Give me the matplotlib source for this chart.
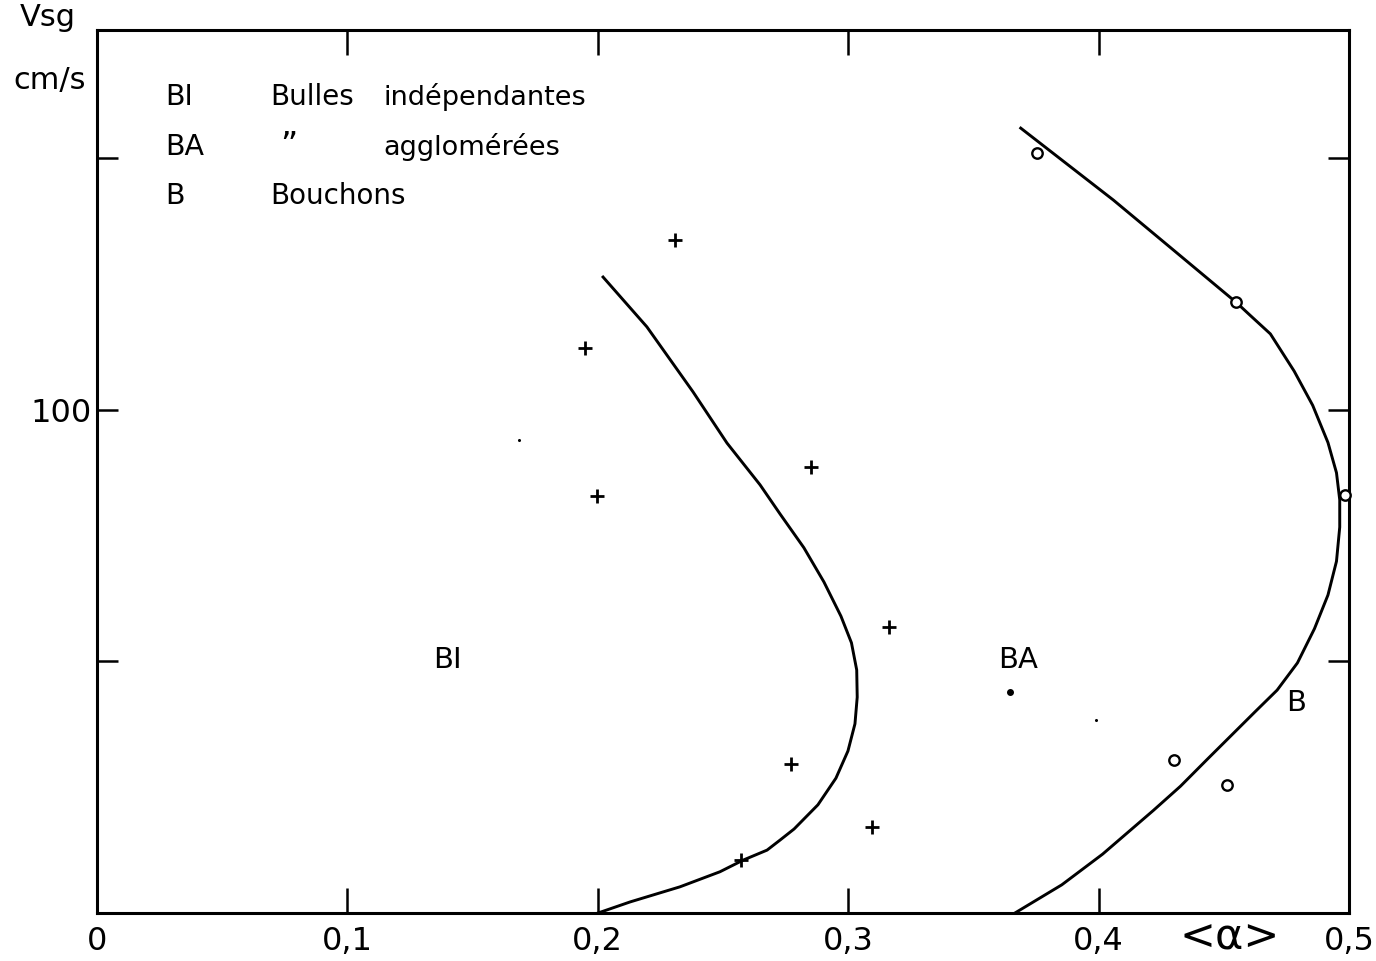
import matplotlib
matplotlib.use("Agg")
import matplotlib.pyplot as plt

# ---- data ----
plus_x = [0.2308, 0.1949, 0.1997, 0.2851, 0.3163, 0.2772, 0.3095, 0.2572]
plus_y = [133.8, 112.3, 82.9, 88.7, 56.9, 29.6, 17.1, 10.5]

circ_x = [0.3754, 0.4549, 0.4984, 0.4300, 0.4514]
circ_y = [151.1, 121.5, 83.1, 30.4, 25.5]

dot_x = [0.3647]
dot_y = [44.0]

speck_x = [0.1685, 0.3990]
speck_y = [94.0, 38.3]

curve1_x = [0.2021, 0.2196, 0.2380, 0.2516, 0.2648, 0.2728, 0.2823, 0.2903, 0.2971,
            0.3013, 0.3034, 0.3036, 0.3027, 0.2999, 0.2951, 0.2879, 0.2784, 0.2728,
            0.2676, 0.2580, 0.2488, 0.2328, 0.2129, 0.2001]
curve1_y = [126.4, 116.5, 103.6, 93.4, 85.1, 79.3, 72.6, 65.8, 59.0,
            53.7, 48.3, 42.9, 37.6, 32.2, 26.8, 21.5, 16.7, 14.5,
            12.5, 10.5, 8.2, 5.2, 2.2, 0.0]

curve2_x = [0.3689, 0.4059, 0.4298, 0.4551, 0.4605, 0.4686, 0.4781, 0.4855, 0.4916,
            0.4950, 0.4963, 0.4963, 0.4950, 0.4916, 0.4862, 0.4794, 0.4713, 0.4625,
            0.4530, 0.4435, 0.4327, 0.4219, 0.4016, 0.3853, 0.3666]
curve2_y = [156.0, 141.7, 131.8, 121.3, 118.8, 115.1, 107.7, 100.9, 93.5,
            87.5, 82.1, 76.7, 69.9, 63.2, 56.5, 49.7, 44.3, 40.0,
            35.3, 30.6, 25.2, 20.4, 11.7, 5.6, 0.0]

x_ticks = [0.0, 0.1, 0.2, 0.3, 0.4, 0.5]
x_ticklabels = ["0", "0,1", "0,2", "0,3", "0,4", "0,5"]
y_ticks = [50, 100, 150]
y_ticklabels = ["", "100", ""]

region_labels = ["BI", "BA", "B"]
region_x = [0.1398, 0.3678, 0.4788]
region_y = [50.3, 50.3, 41.7]

legend_codes = ["BI", "BA", "B"]
legend_mid = ["Bulles", "\u201d", "Bouchons"]
legend_desc = ["indépendantes", "agglomérées", ""]

plt.rcParams["font.family"] = ["DejaVu Sans"]

fig = plt.figure(figsize=(13.76, 9.61), dpi=100)
ax = fig.add_axes([97 / 1376, 48 / 961, (1349 - 97) / 1376, (913 - 30) / 961])
ax.set_xlim(0, 0.5)
ax.set_ylim(0, 175.5)

lw = 2.1
ax.plot(curve1_x, curve1_y, color="black", lw=lw, solid_joinstyle="round")
ax.plot(curve2_x, curve2_y, color="black", lw=lw, solid_joinstyle="round")
ax.plot(plus_x, plus_y, linestyle="none", marker="+", ms=10, mew=2.0, color="black")
ax.plot(circ_x, circ_y, linestyle="none", marker="o", ms=7.5, mew=1.7,
        mfc="white", mec="black", clip_on=False, zorder=5)
ax.plot(dot_x, dot_y, linestyle="none", marker="o", ms=4, color="black")
ax.plot(speck_x, speck_y, linestyle="none", marker="o", ms=1.2, color="black")

for s in ax.spines.values():
    s.set_linewidth(2.2)

ax.set_xticks(x_ticks)
ax.set_xticklabels(x_ticklabels)
ax.set_yticks(y_ticks)
ax.set_yticklabels(y_ticklabels)
ax.tick_params(axis="x", which="major", direction="in", length=18, width=1.8,
               top=True, bottom=True, labelsize=23, pad=9)
ax.tick_params(axis="y", which="major", direction="in", length=15, width=1.8,
               left=True, right=True, labelsize=23, pad=4)

for lab, x, y in zip(region_labels, region_x, region_y):
    ax.text(x, y, lab, fontsize=21, ha="center", va="center")

# legend block (upper left)
leg_rows_y = [97, 147, 196]
for code, mid, desc, py in zip(legend_codes, legend_mid, legend_desc, leg_rows_y):
    yf = 1 - py / 961
    fig.text(165 / 1376, yf, code, fontsize=20.5, va="center", ha="left")
    mx = 280 if mid == "\u201d" else 270
    fig.text(mx / 1376, yf, mid, fontsize=24 if mid == "\u201d" else 20,
             va="center", ha="left")
    if desc:
        fig.text(383 / 1376, yf, desc, fontsize=19.5, va="center", ha="left")

fig.text(48 / 1376, 1 - 18 / 961, "Vsg", fontsize=22, ha="center", va="center")
fig.text(50 / 1376, 1 - 80 / 961, "cm/s", fontsize=22, ha="center", va="center")
fig.text(1230 / 1376, 1 - 938 / 961, "<\u03b1>", fontsize=31, ha="center", va="center")

fig.savefig("out.png", dpi=100, facecolor="white")
